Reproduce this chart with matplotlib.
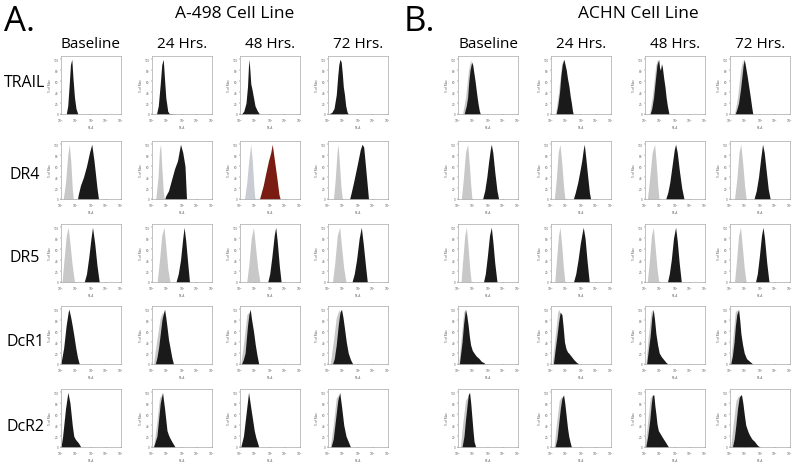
import matplotlib
matplotlib.use('Agg')
import matplotlib.pyplot as plt

plt.rcParams['font.family'] = ['Open Sans', 'DejaVu Sans']

cell_lines = ['A-498 Cell Line', 'ACHN Cell Line']
panel_letters = ['A.', 'B.']
receptors = ['TRAIL', 'DR4', 'DR5', 'DcR1', 'DcR2']
timepoints = ['Baseline', '24 Hrs.', '48 Hrs.', '72 Hrs.']

# histogram outlines: (log10 PE-A, % of max), one list per time point
# A-498
a498_trail_iso = [None, None, None, None]
a498_trail = [
    [(0.35, 0), (0.45, 15), (0.55, 55), (0.63, 90), (0.72, 100), (0.8, 65), (0.9, 30), (1.0, 10), (1.12, 0)],
    [(0.3, 0), (0.42, 15), (0.55, 55), (0.65, 90), (0.75, 100), (0.82, 70), (0.92, 30), (1.05, 5), (1.15, 1), (1.6, 0)],
    [(0.1, 0), (0.25, 5), (0.4, 20), (0.5, 50), (0.56, 85), (0.6, 100), (0.66, 80), (0.72, 55), (0.8, 45),
     (0.9, 30), (1.0, 15), (1.15, 6), (1.3, 0)],
    [(0.05, 0), (0.25, 3), (0.4, 10), (0.55, 35), (0.65, 70), (0.72, 90), (0.8, 100), (0.88, 95), (0.95, 75),
     (1.02, 50), (1.1, 35), (1.18, 15), (1.27, 4), (1.35, 0)],
]
a498_dr4_iso = [
    [(0.15, 0), (0.3, 30), (0.45, 80), (0.55, 100), (0.65, 70), (0.75, 20), (0.82, 0)],
    [(0.25, 0), (0.4, 40), (0.5, 90), (0.57, 100), (0.65, 60), (0.75, 15), (0.82, 0)],
    [(0.3, 0), (0.45, 30), (0.6, 75), (0.72, 100), (0.82, 70), (0.93, 20), (1.0, 0)],
    [(0.36, 0), (0.48, 35), (0.6, 85), (0.67, 100), (0.75, 70), (0.87, 20), (0.96, 0)],
]
a498_dr4 = [
    [(1.1, 0), (1.15, 8), (1.3, 25), (1.5, 40), (1.7, 60), (1.9, 85), (2.05, 100), (2.2, 70), (2.4, 20), (2.5, 0)],
    [(0.85, 0), (0.9, 5), (1.1, 15), (1.3, 35), (1.5, 55), (1.7, 70), (1.9, 100), (2.05, 85), (2.2, 60), (2.3, 0)],
    [(1.3, 0), (1.4, 10), (1.55, 25), (1.7, 45), (1.9, 70), (2.05, 85), (2.15, 100), (2.3, 70), (2.45, 40),
     (2.6, 8), (2.68, 0)],
    [(1.44, 0), (1.55, 12), (1.7, 30), (1.93, 60), (2.15, 90), (2.27, 100), (2.38, 95), (2.5, 60), (2.6, 30), (2.7, 0)],
]
a498_dr5_iso = [
    [(0.07, 0), (0.2, 40), (0.35, 85), (0.48, 100), (0.6, 70), (0.75, 30), (0.9, 0)],
    [(0.34, 0), (0.5, 40), (0.65, 85), (0.8, 100), (0.92, 65), (1.05, 25), (1.2, 0)],
    [(0.45, 0), (0.6, 35), (0.75, 80), (0.9, 100), (1.03, 65), (1.18, 25), (1.33, 0)],
    [(0.3, 0), (0.45, 35), (0.62, 85), (0.78, 100), (0.9, 65), (1.05, 25), (1.2, 0)],
]
a498_dr5 = [
    [(1.55, 0), (1.7, 15), (1.85, 45), (2.0, 80), (2.1, 100), (2.25, 70), (2.4, 30), (2.55, 0)],
    [(1.6, 0), (1.75, 15), (1.9, 40), (2.05, 80), (2.14, 100), (2.25, 75), (2.38, 35), (2.5, 0)],
    [(1.85, 0), (1.98, 15), (2.12, 45), (2.28, 85), (2.38, 100), (2.48, 75), (2.62, 30), (2.74, 0)],
    [(1.6, 0), (1.75, 15), (1.9, 40), (2.08, 80), (2.22, 100), (2.35, 70), (2.5, 30), (2.62, 0)],
]
a498_dcr1_iso = [
    None,
    [(0.1, 0), (0.3, 40), (0.55, 85), (0.7, 95), (0.85, 60), (1.0, 20), (1.15, 0)],
    [(0.05, 0), (0.25, 40), (0.45, 90), (0.6, 95), (0.75, 55), (0.95, 15), (1.1, 0)],
    [(0.15, 0), (0.35, 40), (0.55, 85), (0.75, 100), (0.9, 60), (1.1, 20), (1.3, 0)],
]
a498_dcr1 = [
    [(0.0, 0), (0.02, 5), (0.18, 30), (0.34, 70), (0.48, 95), (0.53, 100), (0.65, 85), (0.75, 70), (0.87, 50),
     (0.98, 30), (1.1, 12), (1.17, 5), (1.22, 0)],
    [(0.22, 0), (0.33, 12), (0.44, 30), (0.55, 55), (0.66, 80), (0.75, 92), (0.84, 100), (0.92, 85), (0.99, 70),
     (1.1, 45), (1.2, 30), (1.32, 12), (1.43, 0)],
    [(0.1, 0), (0.22, 8), (0.34, 20), (0.42, 45), (0.5, 70), (0.6, 92), (0.68, 100), (0.78, 80), (0.9, 60),
     (1.02, 35), (1.14, 15), (1.25, 0)],
    [(0.3, 0), (0.42, 10), (0.55, 35), (0.68, 70), (0.8, 95), (0.9, 100), (1.0, 85), (1.1, 65), (1.22, 40),
     (1.35, 20), (1.5, 8), (1.65, 0)],
]
a498_dcr2_iso = [
    None,
    [(0.1, 0), (0.3, 40), (0.5, 90), (0.62, 95), (0.78, 55), (0.95, 15), (1.1, 0)],
    None,
    [(0.15, 0), (0.35, 40), (0.55, 90), (0.7, 95), (0.85, 55), (1.05, 15), (1.2, 0)],
]
a498_dcr2 = [
    [(0.0, 0), (0.11, 20), (0.3, 70), (0.46, 100), (0.6, 80), (0.75, 40), (0.85, 20), (0.94, 15), (1.05, 11),
     (1.15, 8), (1.26, 3), (1.32, 0)],
    [(0.1, 0), (0.33, 20), (0.55, 80), (0.7, 100), (0.84, 70), (1.0, 30), (1.1, 22), (1.2, 16), (1.32, 10),
     (1.45, 4), (1.54, 0)],
    [(0.05, 0), (0.23, 20), (0.4, 60), (0.57, 100), (0.73, 70), (0.95, 30), (1.05, 18), (1.14, 10), (1.25, 0)],
    [(0.2, 0), (0.35, 15), (0.5, 50), (0.65, 85), (0.78, 100), (0.9, 75), (1.05, 40), (1.2, 20), (1.35, 10), (1.5, 0)],
]

# ACHN
achn_trail_iso = [
    [(0.3, 0), (0.5, 30), (0.7, 80), (0.85, 100), (0.95, 70), (1.1, 20), (1.2, 0)],
    [(0.3, 0), (0.5, 40), (0.7, 90), (0.82, 100), (0.95, 60), (1.1, 15), (1.25, 0)],
    [(0.3, 0), (0.5, 35), (0.72, 90), (0.84, 100), (0.98, 65), (1.15, 20), (1.3, 0)],
    [(0.3, 0), (0.5, 30), (0.7, 80), (0.85, 100), (0.98, 65), (1.15, 20), (1.3, 0)],
]
achn_trail = [
    [(0.41, 0), (0.55, 15), (0.64, 30), (0.72, 60), (0.8, 80), (0.91, 95), (0.98, 90), (1.06, 75), (1.14, 60),
     (1.24, 38), (1.33, 20), (1.42, 6), (1.49, 0)],
    [(0.34, 0), (0.45, 15), (0.57, 40), (0.66, 70), (0.75, 90), (0.86, 100), (0.94, 90), (1.02, 80), (1.1, 65),
     (1.2, 50), (1.28, 33), (1.36, 20), (1.43, 6), (1.48, 0)],
    [(0.34, 0), (0.45, 10), (0.57, 30), (0.7, 65), (0.8, 90), (0.91, 100), (0.97, 85), (1.03, 80), (1.1, 92),
     (1.16, 85), (1.25, 65), (1.33, 50), (1.41, 30), (1.49, 15), (1.6, 0)],
    [(0.34, 0), (0.45, 8), (0.57, 20), (0.7, 45), (0.8, 70), (0.88, 90), (0.95, 100), (1.03, 88), (1.14, 70),
     (1.25, 50), (1.36, 30), (1.45, 12), (1.52, 0)],
]
achn_dr4_iso = [
    [(0.22, 0), (0.35, 35), (0.5, 85), (0.64, 100), (0.75, 65), (0.85, 25), (0.93, 0)],
    [(0.22, 0), (0.35, 35), (0.48, 85), (0.6, 100), (0.72, 65), (0.83, 25), (0.93, 0)],
    [(0.16, 0), (0.3, 35), (0.48, 85), (0.64, 100), (0.75, 65), (0.85, 25), (0.93, 0)],
    [(0.3, 0), (0.45, 35), (0.6, 85), (0.72, 100), (0.85, 65), (0.97, 25), (1.08, 0)],
]
achn_dr4 = [
    [(1.64, 0), (1.78, 15), (1.92, 40), (2.05, 70), (2.15, 90), (2.22, 100), (2.32, 85), (2.45, 50), (2.6, 15), (2.71, 0)],
    [(1.49, 0), (1.62, 12), (1.78, 30), (1.92, 50), (2.05, 70), (2.15, 90), (2.22, 100), (2.32, 75), (2.45, 40),
     (2.56, 12), (2.64, 0)],
    [(1.38, 0), (1.52, 12), (1.65, 30), (1.8, 60), (1.95, 90), (2.04, 100), (2.15, 85), (2.3, 50), (2.45, 20), (2.6, 0)],
    [(1.6, 0), (1.75, 15), (1.9, 40), (2.05, 75), (2.17, 100), (2.28, 85), (2.42, 50), (2.55, 18), (2.68, 0)],
]
achn_dr5_iso = [
    [(0.2, 0), (0.3, 35), (0.45, 85), (0.56, 100), (0.67, 65), (0.78, 25), (0.88, 0)],
    [(0.25, 0), (0.35, 35), (0.5, 85), (0.6, 100), (0.72, 65), (0.83, 25), (0.93, 0)],
    [(0.15, 0), (0.28, 35), (0.43, 85), (0.55, 100), (0.67, 65), (0.8, 25), (0.92, 0)],
    [(0.3, 0), (0.42, 35), (0.57, 85), (0.7, 100), (0.82, 65), (0.95, 25), (1.08, 0)],
]
achn_dr5 = [
    [(1.7, 0), (1.82, 15), (1.95, 45), (2.1, 85), (2.22, 100), (2.32, 75), (2.45, 35), (2.6, 0)],
    [(1.5, 0), (1.65, 15), (1.8, 40), (1.95, 70), (2.08, 90), (2.15, 100), (2.27, 80), (2.4, 40), (2.55, 0)],
    [(1.5, 0), (1.62, 15), (1.75, 40), (1.9, 80), (2.04, 100), (2.15, 75), (2.28, 35), (2.42, 0)],
    [(1.7, 0), (1.82, 15), (1.95, 45), (2.1, 85), (2.2, 100), (2.3, 80), (2.45, 35), (2.6, 0)],
]
achn_dcr1_iso = [
    [(0.05, 0), (0.2, 45), (0.38, 95), (0.48, 100), (0.6, 60), (0.8, 20), (1.0, 0)],
    [(0.08, 0), (0.25, 45), (0.45, 95), (0.55, 100), (0.7, 60), (0.9, 20), (1.1, 0)],
    [(0.05, 0), (0.2, 45), (0.4, 95), (0.5, 100), (0.62, 55), (0.8, 20), (1.0, 0)],
    [(0.02, 0), (0.18, 45), (0.35, 95), (0.48, 100), (0.6, 55), (0.8, 20), (1.0, 0)],
]
achn_dcr1 = [
    [(0.09, 0), (0.18, 20), (0.27, 40), (0.38, 75), (0.5, 100), (0.58, 90), (0.68, 70), (0.76, 50), (0.84, 35),
     (0.95, 25), (1.07, 20), (1.2, 15), (1.4, 10), (1.55, 5), (1.75, 2), (1.82, 0)],
    [(0.16, 0), (0.27, 25), (0.39, 50), (0.5, 75), (0.61, 95), (0.68, 92), (0.73, 90), (0.82, 65), (0.9, 40),
     (1.0, 28), (1.1, 22), (1.18, 20), (1.35, 14), (1.52, 8), (1.7, 3), (1.86, 0)],
    [(0.11, 0), (0.22, 25), (0.34, 50), (0.45, 85), (0.55, 100), (0.64, 80), (0.73, 55), (0.84, 35), (0.95, 20),
     (1.1, 13), (1.25, 8), (1.4, 3), (1.52, 0)],
    [(0.05, 0), (0.16, 15), (0.27, 40), (0.36, 70), (0.45, 90), (0.57, 100), (0.65, 80), (0.73, 55), (0.84, 35),
     (0.95, 20), (1.1, 10), (1.3, 5), (1.52, 0)],
]
achn_dcr2_iso = [
    [(0.16, 0), (0.3, 40), (0.5, 85), (0.65, 92), (0.78, 60), (0.92, 20), (1.05, 0)],
    [(0.2, 0), (0.35, 40), (0.55, 85), (0.7, 92), (0.85, 55), (1.0, 15), (1.12, 0)],
    [(0.0, 0), (0.15, 40), (0.35, 90), (0.5, 95), (0.65, 55), (0.85, 15), (1.0, 0)],
    [(0.05, 0), (0.2, 40), (0.4, 85), (0.6, 95), (0.75, 55), (0.95, 15), (1.1, 0)],
]
achn_dcr2 = [
    [(0.27, 0), (0.4, 20), (0.5, 50), (0.6, 75), (0.68, 95), (0.77, 100), (0.85, 80), (0.91, 60), (1.0, 30),
     (1.07, 10), (1.18, 0)],
    [(0.27, 0), (0.4, 15), (0.5, 40), (0.62, 70), (0.73, 90), (0.84, 95), (0.92, 80), (1.0, 60), (1.1, 35),
     (1.18, 20), (1.28, 8), (1.36, 0)],
    [(0.05, 0), (0.18, 20), (0.32, 50), (0.42, 80), (0.5, 95), (0.59, 95), (0.66, 75), (0.73, 60), (0.8, 42),
     (0.89, 30), (1.0, 25), (1.11, 20), (1.22, 15), (1.34, 10), (1.45, 5), (1.57, 0)],
    [(0.16, 0), (0.28, 15), (0.39, 40), (0.5, 70), (0.61, 90), (0.7, 95), (0.77, 95), (0.86, 80), (0.95, 60),
     (1.05, 40), (1.2, 28), (1.3, 22), (1.45, 15), (1.64, 10), (1.8, 4), (1.98, 0)],
]

stained = [
    [a498_trail, a498_dr4, a498_dr5, a498_dcr1, a498_dcr2],
    [achn_trail, achn_dr4, achn_dr5, achn_dcr1, achn_dcr2],
]
isotype = [
    [a498_trail_iso, a498_dr4_iso, a498_dr5_iso, a498_dcr1_iso, a498_dcr2_iso],
    [achn_trail_iso, achn_dr4_iso, achn_dr5_iso, achn_dcr1_iso, achn_dcr2_iso],
]

# layout in pixels (800 x 464 canvas)
W, H = 800, 464
col_left = [[61, 152, 240, 328], [458, 551, 645, 730]]
row_top = [57, 142, 225, 307, 390]
box_w, box_h = 60, 58

fig = plt.figure(figsize=(8, 4.64), dpi=100)
fig.patch.set_facecolor('white')


def draw_hist(ax, pts, color):
    xs = [p[0] for p in pts]
    ys = [p[1] for p in pts]
    ax.fill_between(xs, ys, 0, color=color, lw=0, zorder=2)


for c in range(2):
    for r in range(5):
        for t in range(4):
            left = col_left[c][t] / W
            bottom = 1 - (row_top[r] + box_h) / H
            ax = fig.add_axes([left, bottom, box_w / W, box_h / H])
            iso_color = '#c8c8c8'
            fg_color = '#1a1a1a'
            if c == 0 and r == 1 and t == 2:
                iso_color = '#c9ccd3'
                fg_color = '#7a1c12'
            if isotype[c][r][t] is not None:
                draw_hist(ax, isotype[c][r][t], iso_color)
            draw_hist(ax, stained[c][r][t], fg_color)

            ax.set_xlim(0, 4)
            ax.set_ylim(0, 106)
            ax.set_xticks([0, 1, 2, 3, 4])
            ax.set_xticklabels(['$10^0$', '$10^1$', '$10^2$', '$10^3$', '$10^4$'])
            ax.set_yticks([0, 20, 40, 60, 80, 100])
            ax.tick_params(labelsize=2.2, length=1, width=0.3, pad=0.8, colors='#555555')
            ax.set_xlabel('PE-A', fontsize=2.2, labelpad=0.5, color='#555555')
            ax.set_ylabel('% of Max', fontsize=2.2, labelpad=0.8, color='#555555')
            for sp in ax.spines.values():
                sp.set_color('#a8a8a8')
                sp.set_linewidth(0.5)

# titles and labels
for c in range(2):
    letter_x = [4, 404][c]
    fig.text(letter_x / W, 1 - 22 / H, panel_letters[c], fontsize=25, va='center', ha='left')
    title_x = [235, 638][c]
    fig.text(title_x / W, 1 - 14 / H, cell_lines[c], fontsize=12.5, va='center', ha='center')
    for t in range(4):
        cx = col_left[c][t] + box_w / 2
        fig.text(cx / W, 1 - 45 / H, timepoints[t], fontsize=11, va='center', ha='center')

row_label_y = [83, 175, 258, 342, 427]
for r in range(5):
    fig.text(25 / W, 1 - row_label_y[r] / H, receptors[r], fontsize=11.5, va='center', ha='center')

fig.savefig('out.png', dpi=100, facecolor='white')
